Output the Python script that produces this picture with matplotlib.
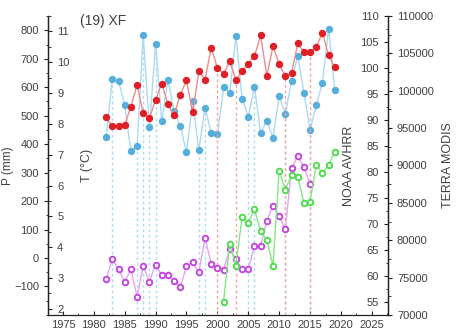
import matplotlib.pyplot as plt
from matplotlib.ticker import MultipleLocator
import numpy as np

plt.rcParams['font.family'] = ['Liberation Sans', 'DejaVu Sans']

# data
years = list(range(1982, 2020))
precip = [425, 630, 622, 536, 376, 393, 783, 459, 751, 480,
          626, 515, 462, 372, 551, 379, 528, 440, 434, 599,
          580, 781, 560, 497, 601, 438, 482, 423, 568, 506,
          623, 710, 581, 450, 536, 616, 806, 590]
temp = [8.21, 7.93, 7.93, 7.96, 8.56, 9.26, 8.34, 8.18, 8.79, 9.31,
        8.63, 8.28, 8.95, 9.41, 8.37, 9.71, 9.44, 10.47, 9.82, 9.63,
        10.04, 9.42, 9.73, 9.95, 10.20, 10.87, 9.55, 10.53, 9.93, 9.55,
        9.64, 10.61, 10.34, 10.34, 10.49, 10.96, 10.22, 9.84]

noaa_years = list(range(1982, 2016))
noaa = [59.4, 63.2, 61.3, 58.9, 61.3, 56.0, 61.9, 58.9, 62.2, 60.1,
        60.1, 59.1, 57.8, 61.9, 62.6, 60.8, 67.3, 62.3, 61.6, 61.2,
        65.2, 63.2, 61.3, 61.3, 65.8, 65.8, 70.6, 73.5, 71.5, 69.0,
        80.7, 83.1, 80.9, 77.7]

modis_years = list(range(2001, 2020))
modis = [71780, 79500, 76560, 83150, 82350, 84140, 81240, 80040, 76560, 89310,
         86730, 88730, 88500, 84950, 85160, 90070, 88960, 90070, 91850]

p_marked = [1983, 1987, 1988, 1989, 1990, 1997, 1998, 2005, 2006, 2011, 2015]
t_marked = [2000, 2003, 2011, 2015]

txt = '#404040'
spine_c = '#222222'

fig = plt.figure(figsize=(4.58, 3.34), dpi=100)
ax = fig.add_axes([0.105, 0.057, 0.742, 0.895])
ax_t = ax.twinx()
ax_n = ax.twinx()
ax_m = ax.twinx()

for a in [ax, ax_t, ax_n, ax_m]:
    a.spines['top'].set_visible(False)
    for s in a.spines.values():
        s.set_color(spine_c)
        s.set_linewidth(0.9)
    a.tick_params(colors=spine_c, labelcolor=txt, labelsize=8, length=3, width=0.8)
    a.tick_params(which='minor', length=1.8, width=0.6, colors=spine_c)

ax.set_xlim(1972.6, 2027.6)
ax.xaxis.set_major_locator(MultipleLocator(5))
ax.xaxis.set_minor_locator(MultipleLocator(2.5))
ax.tick_params(axis='x', direction='in')
ax.tick_params(axis='x', which='minor', direction='in')
ax.spines['right'].set_visible(False)

# P on the left, outward
ax.set_ylim(-200, 850)
ax.set_yticks(np.arange(-100, 801, 100))
ax.yaxis.set_minor_locator(MultipleLocator(50))
ax.set_ylabel('P (mm)', fontsize=8.5, color=txt)
ax.yaxis.set_label_coords(-0.1, 0.5)

# T on the same left spine, ticks inside
ax_t.spines['right'].set_position(('axes', 0.0))
ax_t.spines['left'].set_visible(False)
ax_t.spines['bottom'].set_visible(False)
ax_t.set_ylim(1.8, 11.5)
ax_t.set_yticks(np.arange(2, 12, 1))
ax_t.yaxis.set_minor_locator(MultipleLocator(0.5))
ax_t.set_ylabel('T (\u00b0C)', fontsize=9, color=txt, labelpad=8)

# NOAA on the right spine, ticks inside
ax_n.yaxis.tick_left()
ax_n.yaxis.set_label_position('left')
ax_n.spines['left'].set_position(('axes', 1.0))
ax_n.spines['right'].set_visible(False)
ax_n.spines['bottom'].set_visible(False)
ax_n.set_ylim(52.5, 110)
ax_n.set_yticks(np.arange(55, 111, 5))
ax_n.yaxis.set_minor_locator(MultipleLocator(2.5))
ax_n.set_ylabel('NOAA AVHRR', fontsize=9, color=txt, labelpad=4)

# MODIS on the right, outward
ax_m.spines['left'].set_visible(False)
ax_m.spines['bottom'].set_visible(False)
ax_m.set_ylim(70000, 110000)
ax_m.set_yticks(np.arange(70000, 110001, 5000))
ax_m.yaxis.set_minor_locator(MultipleLocator(2500))
ax_m.set_ylabel('TERRA MODIS', fontsize=9, color=txt, labelpad=6)

# dashed markers for selected years
p_lookup = dict(zip(years, precip))
t_lookup = dict(zip(years, temp))
ax_t.vlines(t_marked, 1.8, [t_lookup[y] for y in t_marked], colors='#f4a3a3',
            linestyles=(0, (2, 2)), linewidth=1.0, zorder=1)
ax.vlines(p_marked, -200, [p_lookup[y] for y in p_marked], colors='#acdcf3',
          linestyles=(0, (2, 2)), linewidth=1.0, zorder=1)

ax.plot(years, precip, color='#a9daf3', lw=1.0, marker='o', ms=4.3,
        mfc='#56aedd', mec='#56aedd', zorder=3)
ax_t.plot(years, temp, color='#f28a8a', lw=1.0, marker='o', ms=4.3,
          mfc='#de1f26', mec='#de1f26', zorder=3)
ax_n.plot(noaa_years, noaa, color='#e6a3f2', lw=1.0, marker='o', ms=4.0,
          mfc='white', mec='#c448e0', mew=1.4, zorder=3)
ax_m.plot(modis_years, modis, color='#82e882', lw=1.0, marker='o', ms=4.0,
          mfc='white', mec='#4fdc4f', mew=1.4, zorder=3)

ax.text(0.094, 0.985, '(19) XF', transform=ax.transAxes, va='center',
        fontsize=10, color=txt)

plt.savefig('out.png', dpi=100)
